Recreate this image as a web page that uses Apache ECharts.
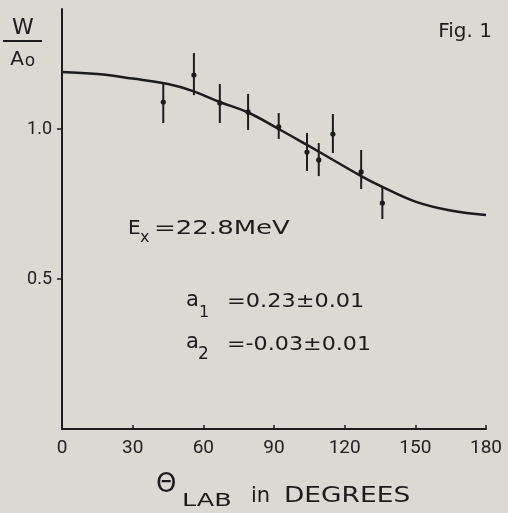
<!DOCTYPE html>
<html>
<head>
<meta charset="utf-8">
<script src="https://cdn.jsdelivr.net/npm/echarts@6/dist/echarts.min.js"></script>
<style>
html,body{margin:0;padding:0;background:#dcd8d2;}
#chart{width:508px;height:513px;}
</style>
</head>
<body>
<div id="chart"></div>
<script>
// Measured data points (angle in degrees, W/A0, error bar low/high)
const angles  = [43, 56, 67, 79, 92, 104, 109, 115, 127, 136];
const ratios  = [1.09, 1.18, 1.087, 1.057, 1.007, 0.923, 0.897, 0.983, 0.857, 0.753];
const errLow  = [1.02, 1.113, 1.02, 0.997, 0.967, 0.86, 0.843, 0.92, 0.80, 0.70];
const errHigh = [1.153, 1.253, 1.15, 1.117, 1.053, 0.987, 0.953, 1.05, 0.93, 0.807];
// Fitted curve
const curveAngles = [0, 15, 30, 45, 55, 67, 79, 92, 104, 110, 127, 136, 150, 165, 180];
const curveValues = [1.19, 1.183, 1.168, 1.15, 1.128, 1.09, 1.055, 1.0, 0.947, 0.92, 0.843, 0.807, 0.758, 0.728, 0.713];
const yTickValues = [0.5, 1.0];

const ink = '#1c1c1c';
const chart = echarts.init(document.getElementById('chart'));

const pointData = angles.map((a, i) => [a, ratios[i], errLow[i], errHigh[i]]);
const curveData = curveAngles.map((a, i) => [a, curveValues[i]]);

function txt(text, x, y, size, align, sx) {
  return {
    type: 'text', x: x, y: y, scaleX: sx || 1,
    style: {
      text: text, fill: ink,
      font: 'normal ' + size + 'px "DejaVu Sans"',
      align: align || 'left', verticalAlign: 'middle'
    }
  };
}

chart.setOption({
  backgroundColor: '#dcd8d2',
  animation: false,
  grid: { left: 62, right: 22, top: 9, bottom: 84 },
  xAxis: {
    type: 'value', min: 0, max: 180, interval: 30,
    axisLine: { show: true, lineStyle: { color: ink, width: 2 } },
    axisTick: { show: true, inside: true, length: 4, lineStyle: { color: ink, width: 1.5 } },
    splitLine: { show: false },
    axisLabel: { color: '#222', fontFamily: 'Roboto', fontSize: 19, margin: 10 }
  },
  yAxis: {
    type: 'value', min: 0, max: 1.4,
    axisLine: { show: true, lineStyle: { color: ink, width: 2 } },
    axisTick: { show: true, length: 5, customValues: yTickValues, lineStyle: { color: ink, width: 1.5 } },
    splitLine: { show: false },
    axisLabel: {
      customValues: yTickValues, color: '#222', fontFamily: 'Roboto', fontSize: 18, margin: 10,
      formatter: v => v.toFixed(1)
    }
  },
  series: [
    {
      type: 'line', data: curveData, smooth: 0.4, showSymbol: false,
      lineStyle: { color: ink, width: 2.5 }, z: 2
    },
    {
      type: 'custom', data: pointData, encode: { x: 0, y: 1 }, z: 3,
      renderItem: function (params, api) {
        const x = api.value(0);
        const p = api.coord([x, api.value(1)]);
        const pl = api.coord([x, api.value(2)]);
        const ph = api.coord([x, api.value(3)]);
        return {
          type: 'group',
          children: [
            { type: 'line', shape: { x1: pl[0], y1: pl[1], x2: ph[0], y2: ph[1] }, style: { stroke: ink, lineWidth: 2 } },
            { type: 'circle', shape: { cx: p[0], cy: p[1], r: 2.6 }, style: { fill: ink } }
          ]
        };
      }
    }
  ],
  graphic: [
    // y-axis name W / A0
    txt('W', 23, 28, 22, 'center'),
    { type: 'line', shape: { x1: 3, y1: 41, x2: 42, y2: 41 }, style: { stroke: ink, lineWidth: 2 } },
    txt('A', 17, 60, 20, 'center'),
    txt('o', 30, 62, 17, 'center'),
    // Fig. 1
    txt('Fig. 1', 492, 32, 20, 'right'),
    // Ex = 22.8 MeV
    txt('E', 128, 229, 20, 'left'),
    txt('x', 140, 238, 16, 'left'),
    txt('=22.8MeV', 154, 229, 20, 'left', 1.3),
    // a1
    txt('a', 186, 301, 21, 'left'),
    txt('1', 199, 313, 16, 'left'),
    txt('=0.23±0.01', 227, 302, 20, 'left', 1.12),
    // a2
    txt('a', 186, 343, 21, 'left'),
    txt('2', 198, 355, 17, 'left'),
    txt('=-0.03±0.01', 227, 345, 20, 'left', 1.11),
    // x-axis name
    txt('Θ', 156, 485, 26, 'left'),
    txt('LAB', 182, 502, 17, 'left', 1.5),
    txt('in', 251, 497, 21, 'left'),
    txt('DEGREES', 284, 497, 21, 'left', 1.26)
  ]
});
</script>
</body>
</html>
